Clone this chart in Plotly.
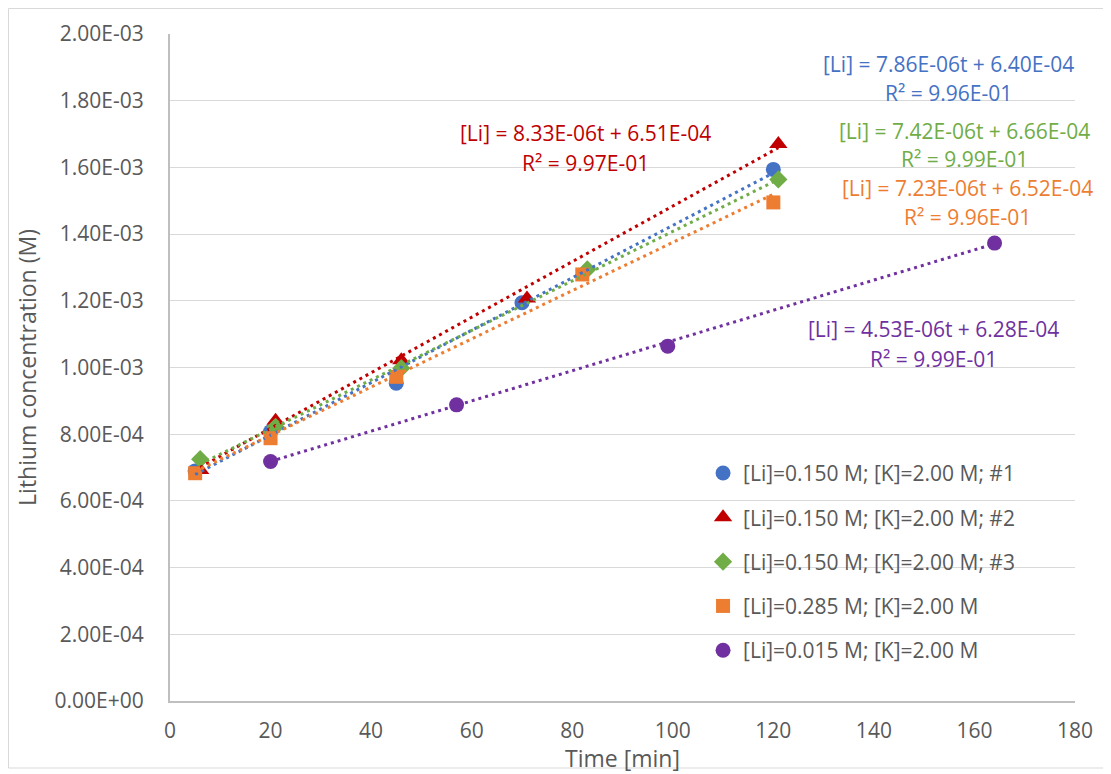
import numpy as np
import plotly.graph_objects as go

# ---------------- data ----------------
series_names = [
    "[Li]=0.150 M; [K]=2.00 M; #1",
    "[Li]=0.150 M; [K]=2.00 M; #2",
    "[Li]=0.150 M; [K]=2.00 M; #3",
    "[Li]=0.285 M; [K]=2.00 M",
    "[Li]=0.015 M; [K]=2.00 M",
]
t1 = [5, 20, 45, 70, 120]
c1 = [6.90e-4, 8.08e-4, 9.53e-4, 1.194e-3, 1.594e-3]
t2 = [6, 21, 46, 71, 121]
c2 = [6.93e-4, 8.40e-4, 1.022e-3, 1.207e-3, 1.670e-3]
t3 = [6, 21, 46, 83, 121]
c3 = [7.25e-4, 8.22e-4, 9.98e-4, 1.294e-3, 1.564e-3]
t4 = [5, 20, 45, 82, 120]
c4 = [6.83e-4, 7.88e-4, 9.72e-4, 1.279e-3, 1.495e-3]
t5 = [20, 57, 99, 164]
c5 = [7.18e-4, 8.88e-4, 1.064e-3, 1.373e-3]

# trendline coefficients (as printed on the chart)
slopes = [7.86e-06, 8.33e-06, 7.42e-06, 7.23e-06, 4.53e-06]
intercepts = [6.40e-04, 6.51e-04, 6.66e-04, 6.52e-04, 6.28e-04]
r2_values = [9.96e-01, 9.97e-01, 9.99e-01, 9.96e-01, 9.99e-01]

x_ticks = [0, 20, 40, 60, 80, 100, 120, 140, 160, 180]
y_ticks = [0, 2e-4, 4e-4, 6e-4, 8e-4, 1e-3, 1.2e-3, 1.4e-3, 1.6e-3, 1.8e-3, 2e-3]
y_ticktext = [f"{v:.2E}" for v in y_ticks]

# ---------------- style ----------------
colors = ["#4472C4", "#C00000", "#70AD47", "#ED7D31", "#7030A0"]
symbols = ["circle", "triangle-up", "diamond", "square", "circle"]
sizes = [15, 16, 14, 14, 15]
FONT = "Open Sans"
GRAY = "#595959"
FS = 21

fig = go.Figure()
ts = [t1, t2, t3, t4, t5]
cs = [c1, c2, c3, c4, c5]

for i in range(5):
    fig.add_trace(go.Scatter(
        x=ts[i], y=cs[i], mode="markers", name=series_names[i],
        legendgroup=f"g{i}",
        marker=dict(symbol=symbols[i], size=sizes[i], color=colors[i], line=dict(width=0)),
    ))

for i in range(5):
    tt = np.array([min(ts[i]), max(ts[i])], dtype=float)
    fig.add_trace(go.Scatter(
        x=tt, y=slopes[i] * tt + intercepts[i], mode="lines", showlegend=False,
        hoverinfo="skip",
        line=dict(color=colors[i], width=3, dash="3px,4px"),
    ))

# equation annotations (positions in data coords: center x, line1 y, line2 y)
ann_pos = [
    (154.8, 1.911e-3, 1.824e-3),
    (82.6, 1.703e-3, 1.613e-3),
    (158.0, 1.709e-3, 1.625e-3),
    (158.6, 1.538e-3, 1.451e-3),
    (151.8, 1.114e-3, 1.027e-3),
]
for i in range(5):
    x, y1, y2 = ann_pos[i]
    line1 = f"[Li] = {slopes[i]:.2E}t + {intercepts[i]:.2E}"
    line2 = f"R² = {r2_values[i]:.2E}"
    for txt, yy in ((line1, y1), (line2, y2)):
        fig.add_annotation(x=x, y=yy, xref="x", yref="y", text=txt, showarrow=False,
                           xanchor="center", yanchor="middle",
                           font=dict(family=FONT, size=FS, color=colors[i]))

fig.update_layout(
    width=1103, height=766,
    margin=dict(l=162, r=36, t=26, b=73),
    paper_bgcolor="white", plot_bgcolor="white",
    font=dict(family=FONT, size=FS, color=GRAY),
    showlegend=True,
    legend=dict(x=0.589, y=0.372, xanchor="left", yanchor="top",
                bgcolor="rgba(0,0,0,0)", tracegroupgap=14,
                font=dict(family=FONT, size=FS, color=GRAY),
                itemwidth=30),
    shapes=[dict(type="rect", xref="paper", yref="paper",
                 x0=(8.5 - 170) / 905, x1=(1104 - 170) / 905,
                 y0=(701 - 768) / 667, y1=(701 - 8.5) / 667,
                 line=dict(color="#D9D9D9", width=1), layer="below")],
)

fig.update_xaxes(range=[0, 180], tickvals=x_ticks, showgrid=False, zeroline=False,
                 showline=True, linecolor="#BFBFBF", linewidth=2, ticks="",
                 ticklabelstandoff=10,
                 tickfont=dict(family=FONT, size=FS, color=GRAY),
                 title=dict(text="Time [min]", font=dict(family=FONT, size=23, color=GRAY), standoff=0))
fig.update_yaxes(range=[0, 2e-3], tickvals=y_ticks, ticktext=y_ticktext,
                 showgrid=True, gridcolor="#D9D9D9", gridwidth=1, zeroline=False,
                 showline=True, linecolor="#BFBFBF", linewidth=2, ticks="",
                 ticklabelstandoff=20,
                 tickfont=dict(family=FONT, size=FS, color=GRAY),
                 title=dict(text="Lithium concentration (M)", font=dict(family=FONT, size=23, color=GRAY), standoff=12))

fig.write_html("out.html")
